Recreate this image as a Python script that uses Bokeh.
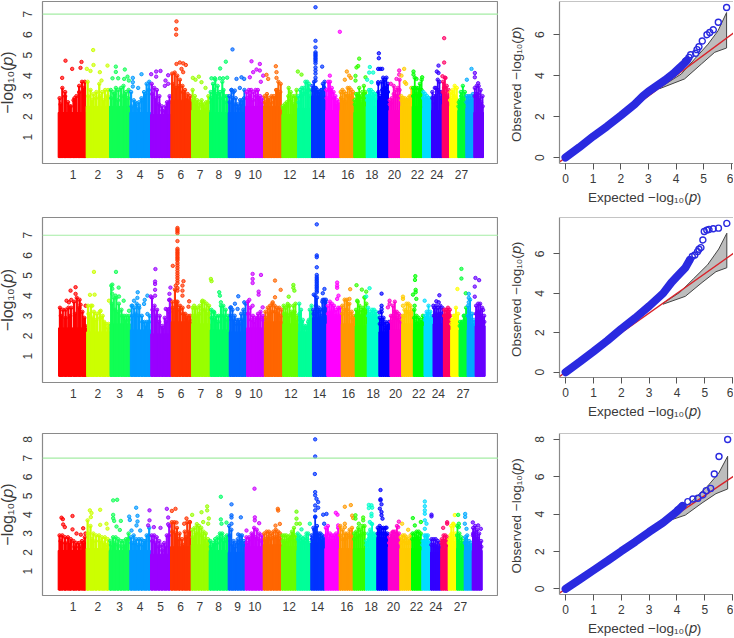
from bokeh.plotting import figure
from bokeh.layouts import row, column
from bokeh.models import Range1d, FixedTicker, Span
from bokeh.embed import file_html
from bokeh.resources import INLINE

COLORS = ["#FF0000","#CCFF00","#11FF55","#0099FF","#9900FF","#FF3300","#99FF00","#00FF66","#0066FF","#CC00FF",
          "#FF6600","#66FF00","#00FF99","#0033FF","#FF00FF","#FF9900","#33FF00","#00FFCC","#0000FF","#FF00CC",
          "#FFCC00","#00FF00","#00DDFF","#3300FF","#FF0066","#FFFF00","#00FF33","#00AAFF","#6600FF"]
TICK_LABELS = ["1","2","3","4","5","6","7","8","9","10","12","14","16","18","20","22","24","27"]

P1_EDGES = [170,254,324,385,447,508,570,624,680,732,786,841,888,930,972,1015,1057,1094,1128,1162,1197,1232,1263,1290,1322,1344,1369,1393,1417,1446]
P2_EDGES = [174,258,328,389,450,511,572,628,685,737,790,845,892,934,977,1020,1062,1098,1133,1166,1201,1236,1268,1295,1326,1348,1373,1397,1421,1451]
P3_EDGES = [170,254,323,385,447,507,569,623,680,731,785,840,886,928,970,1013,1055,1092,1126,1160,1195,1230,1261,1287,1318,1340,1365,1388,1412,1442]
P1_TICKS = [215,289,354,416,477,538,596,652,709,761,865,951,1039,1111,1179,1248,1306,1380]
P2_TICKS = [218,292,357,418,480,541,600,655,712,765,870,955,1042,1116,1183,1252,1311,1385]
P3_TICKS = [215,289,354,416,477,537,595,651,708,760,863,948,1036,1109,1176,1245,1303,1377]

P1_SOLID = [2.2,2.5,2.5,2.2,2.1,2.8,2.3,2.2,2.2,2.5,2.5,2.1,2.4,3.0,2.3,2.3,2.2,2.5,2.8,2.3,2.5,2.5,2.4,2.3,2.6,2.5,2.3,2.4,2.2]
P2_SOLID = [2.4,2.2,2.6,2.3,2.1,2.7,2.6,2.3,2.2,2.4,2.7,2.6,2.2,2.9,2.6,2.6,2.5,2.6,2.2,2.3,2.6,2.3,2.5,2.6,2.8,2.3,2.3,2.3,2.5]
P3_SOLID = [2.1,2.2,2.1,2.1,1.9,2.3,2.4,2.1,2.0,2.3,2.4,2.3,2.1,2.5,2.2,2.2,2.2,2.2,2.8,2.3,2.2,2.2,2.1,2.0,2.2,2.3,2.2,2.1,2.1]

P1_TOPS = [[2.9,3.4,3.2,2.7,2.5,2.8,3.0,3.5,3.7,3.7],[3.7,3.3,3.1,3.2,3.6,3.2,3.3,3.3],[3.3,3.2,3.4,3.3,3.4,3.5,3.2,3.3],
 [3.2,2.8,2.6,2.7,2.9,3.2,3.6,3.7],[3.6,3.4,3.3,3.0,2.5,2.3,2.7,3.0],[4.1,4.15,4.0,3.8,3.5,3.3,3.1,3.0],[3.3,3.0,2.8,2.7,2.8,2.6,2.7,3.0],
 [3.2,3.6,3.8,3.5,3.2,3.7,3.0,3.0],[3.0,3.3,3.2,2.9,2.6,2.8,2.8,3.3],[3.2,3.3,3.3,3.2,3.3,3.3,3.0,2.9],[3.0,3.1,2.9,3.0,3.0,3.3,3.7,3.6],
 [2.5,2.6,2.7,3.4,3.2,3.0,3.0,3.3],[3.0,3.3,3.4,3.4,3.7,3.7,3.6,3.3],[3.5,3.7,3.4,3.2,3.1,3.3,3.6,3.7],[3.3,3.7,3.7,3.4,3.2,3.0,2.8,2.7],
 [3.2,3.3,3.2,3.1,3.4,3.4,3.3,3.2],[2.8,3.1,3.1,3.4,3.0,3.2,3.5,3.2],[3.0,3.3,3.3,3.2,3.1,3.1],[3.6,3.0,3.7,3.9,3.8,3.9,3.6],
 [2.8,2.9,3.5,3.3,3.4,3.8],[3.0,2.9,2.9,2.8,2.9,3.0,3.4],[3.4,3.9,3.4,3.4,3.6,3.8],[3.2,3.1,3.0,2.9,2.9],[3.2,3.0,3.4,3.8,3.7,3.2],
 [3.7,3.9,3.5,3.3],[3.2,3.3,3.5,3.4],[2.7,3.2,3.5,3.2],[3.0,3.0,3.0,3.1],[3.4,3.5,3.5,3.3,3.0]]
P2_TOPS = [[3.4,3.3,3.3,3.4,3.4,3.7,3.9,3.8,3.2,2.5],[3.5,3.5,3.2,3.1,3.2,3.0,2.6,2.6],[4.5,3.9,3.9,3.6,3.3,3.0,3.0,3.0],
 [3.5,3.4,3.6,3.4,3.0,2.7,2.7,3.0],[3.9,3.5,3.3,3.0,2.5,2.9,3.3,3.8],[3.7,4.3,3.7,3.5,3.4,3.1,3.0,3.0],[3.4,3.4,3.4,3.5,3.7,3.7,3.6,3.5],
 [3.3,3.2,3.0,3.0,3.5,3.5,3.3,3.0],[3.4,3.3,3.0,2.8,2.8,3.1,3.3,3.6],[3.7,3.4,3.0,2.9,3.1,3.2,3.0],[3.2,3.4,3.5,3.6,3.5,3.4,3.4,3.3],
 [3.5,3.4,3.5,3.5,3.2,3.5,3.6,3.0],[3.6,3.3,2.8,2.5,2.5,2.7,3.3,3.5],[3.3,4.0,3.9,3.4,3.3,3.7,3.8,3.8],[3.5,3.7,3.6,3.5,3.3,3.4,3.4],
 [3.5,3.8,3.8,3.6,3.2,3.0],[3.3,3.7,3.5,3.3,3.4,3.9,3.6],[3.4,3.2,3.3,3.3,3.2,3.0],[2.9,3.2,2.9,2.7,2.6,2.7],[3.0,3.5,3.7,3.2,3.1,3.0],
 [3.0,3.3,3.6,3.6,3.5,3.3],[3.3,3.0,2.9,2.8,3.0],[3.0,3.2,3.5,3.2,3.0],[3.4,3.5,3.4,3.5,3.4],[3.3,3.3,3.4,3.3],[2.8,3.0,3.4,3.1],
 [2.7,2.7,3.0,3.4],[3.5,3.8,3.1,2.8],[3.5,3.6,3.6,3.4,3.0]]
P3_TOPS = [[2.9,2.9,2.8,2.8,2.7,2.6,2.5,2.5,2.6,2.8],[3.7,3.4,3.0,2.9,2.9,2.8,2.8,2.7],[2.6,2.8,2.8,2.7,2.6,2.6,2.7,3.0],
 [2.8,2.9,2.7,2.7,2.7,2.6,2.9,3.3],[2.9,2.9,2.8,2.6,2.4,2.5,2.9,3.4],[3.6,3.6,3.3,3.0,2.7,3.1,3.6,3.6],[3.2,3.3,3.5,3.4,3.3,3.1,3.0,2.7],
 [2.6,2.5,2.7,2.8,3.0,3.0,2.8,2.9],[3.4,3.2,2.6,2.5,2.7,2.9,2.9,2.6],[2.8,2.8,3.0,3.3,3.2,3.0,2.9],[3.0,3.1,3.1,3.0,3.1,3.2,3.1,2.9],
 [2.9,2.9,2.9,2.8,2.9,3.1,3.3,2.9],[3.0,2.9,2.8,2.7,2.8,3.0,3.0,2.5],[2.9,3.3,3.9,3.4,3.0,3.0,2.9,2.8],[3.3,3.4,3.0,2.9,2.9,3.0,3.3],
 [3.4,3.2,3.0,3.0,3.2,3.3],[3.0,3.1,3.3,3.2,3.4,3.4],[2.6,3.0,3.2,3.5,3.0,2.9],[3.3,3.4,3.3,3.3,3.3,3.0],[2.8,3.0,3.1,3.1,3.4,3.0],
 [2.8,2.9,2.9,2.8,2.7,2.9],[3.0,3.0,3.1,3.1,3.0],[2.6,2.9,2.9,2.9,2.6],[2.7,2.7,2.7,2.6,2.5],[2.7,2.9,2.9,2.8],[2.7,3.4,3.5,3.0],
 [3.4,3.0,2.8,2.6],[2.8,2.9,2.6,2.5],[3.3,3.4,3.2,3.0,2.6]]

P1_MID = [[2.6,3.0,2.5,2.9,3.2,3.4],[3.0,2.8,2.9,3.0,2.8,3.0],[2.9,3.1,2.8,3.0,3.1,2.9],[2.5,2.7,2.4,2.8,3.1,3.3],[3.1,2.9,2.6,2.3,2.5,2.7],[3.6,3.4,3.5,3.2,2.9,2.8],
 [2.8,2.6,2.5,2.6,2.4,2.7],[2.9,3.3,3.1,2.9,3.3,2.7],[2.7,2.9,2.6,2.4,2.6,2.9],[2.9,3.0,2.8,3.0,2.9,2.7],[2.7,2.8,2.7,2.9,3.3,3.2],[2.4,2.5,3.0,2.8,2.6,2.9],
 [2.7,3.0,3.1,3.2,3.3,3.0],[3.3,3.4,3.3,3.2,3.3,3.4],[2.9,3.3,3.2,2.9,2.6,2.5],[2.9,2.8,2.7,3.0,3.0,2.9],[2.6,2.8,3.0,2.7,2.9,3.1],[2.8,3.0,2.9,3.0,2.9,2.8],
 [3.2,2.9,3.3,3.4,3.4,3.2],[2.6,2.7,3.1,3.0,3.0,3.3],[2.8,2.7,2.7,2.8,2.7,3.0],[3.0,3.4,3.1,3.0,3.2,3.3],[2.9,2.8,2.8,2.7,2.7,2.7],[2.9,2.7,3.0,3.3,3.2,2.9],
 [3.2,3.4,3.1,3.0,2.9,2.8],[2.8,2.9,3.1,3.0,2.9,2.8],[2.5,2.8,3.0,2.9,2.7,2.6],[2.7,2.8,2.7,2.8,2.7,2.8],[3.0,3.1,3.1,2.9,2.7,2.5]]
P2_MID = [[3.0,2.9,3.0,3.1,3.4,2.9],[3.1,2.9,2.8,2.9,2.7,2.4],[3.6,3.3,3.2,3.0,2.8,2.8],[3.0,3.1,3.0,2.7,2.5,2.7],[3.3,3.0,2.7,2.4,2.7,3.2],[3.4,3.7,3.3,3.1,2.9,2.8],
 [3.0,3.0,3.1,3.3,3.3,3.1],[2.9,2.8,2.7,3.0,3.0,2.8],[3.0,2.8,2.6,2.6,2.8,3.1],[3.1,2.8,2.7,2.9,2.9,2.8],[2.9,3.1,3.2,3.2,3.1,3.0],[3.1,3.1,3.0,3.1,3.2,2.8],
 [3.1,2.7,2.4,2.4,2.8,3.1],[3.1,3.5,3.2,3.0,3.3,3.4],[3.1,3.2,3.2,3.0,3.0,3.0],[3.1,3.3,3.3,3.1,2.9,2.8],[3.0,3.2,3.0,3.0,3.3,3.2],[3.0,2.9,3.0,3.0,2.9,2.8],
 [2.6,2.8,2.6,2.4,2.4,2.5],[2.7,3.0,3.2,2.9,2.8,2.7],[2.8,3.0,3.2,3.2,3.1,2.9],[2.9,2.7,2.6,2.6,2.7,2.7],[2.8,2.9,3.1,2.9,2.8,2.7],[3.0,3.1,3.0,3.1,3.1,3.0],
 [3.0,3.0,3.0,3.1,3.0,3.0],[2.6,2.8,3.0,2.9,2.7,2.6],[2.5,2.5,2.7,3.0,2.8,2.6],[3.0,3.2,2.8,2.6,2.5,2.5],[3.1,3.2,3.2,3.0,2.8,2.7]]
P3_MID = [[2.6,2.5,2.5,2.3,2.3,2.5],[3.0,2.7,2.6,2.6,2.5,2.4],[2.4,2.5,2.4,2.3,2.4,2.7],[2.5,2.5,2.4,2.4,2.6,2.9],[2.6,2.5,2.3,2.1,2.3,2.9],[3.1,3.0,2.7,2.4,2.8,3.1],
 [2.8,3.0,3.0,2.9,2.7,2.5],[2.3,2.4,2.5,2.7,2.6,2.6],[2.9,2.4,2.3,2.5,2.6,2.4],[2.5,2.7,2.9,2.8,2.7,2.6],[2.7,2.8,2.7,2.8,2.8,2.7],[2.6,2.6,2.6,2.7,2.9,2.6],
 [2.7,2.6,2.5,2.6,2.7,2.4],[2.7,3.2,3.0,2.8,2.7,2.6],[2.9,2.7,2.6,2.6,2.7,2.9],[2.9,2.7,2.7,2.8,2.9,2.8],[2.7,2.8,2.9,2.9,3.0,3.0],[2.4,2.7,2.9,3.0,2.7,2.6],
 [3.0,3.1,3.0,3.0,3.0,2.9],[2.5,2.7,2.8,2.8,3.0,2.7],[2.5,2.6,2.6,2.5,2.5,2.6],[2.7,2.7,2.8,2.8,2.7,2.6],[2.4,2.6,2.6,2.6,2.4,2.3],[2.4,2.4,2.4,2.3,2.3,2.2],
 [2.5,2.6,2.6,2.6,2.5,2.4],[2.5,2.9,3.0,2.8,2.6,2.5],[2.9,2.7,2.5,2.4,2.4,2.3],[2.5,2.6,2.4,2.3,2.3,2.2],[2.9,3.0,2.8,2.7,2.4,2.3]]

P1_PTS = [
 [(192,4.73),(182,3.89),(212,4.33),(240,4.67),(237,4.38)],
 [(275,5.25),(276,4.52),(256,4.33),(267,4.23),(295,4.17),(318,4.49),(300,3.76)],
 [(343,4.44),(343,4.18),(370,4.3),(333,3.87),(350,3.87),(368,3.84),(378,3.95),(382,3.76)],
 [(394,3.89),(394,3.68),(394,3.47),(410,3.4),(420,4.07)],
 [(449,4.07),(464,4.2),(477,4.23),(464,3.95),(500,4.02),(492,3.76),(500,3.6),(490,3.5)],
 [(525,6.65),(524,6.27),(524,6.0),(525,4.57),(535,4.64),(545,4.6),(553,4.52),(540,4.33),(545,4.17)],
 [(574,3.89),(582,3.8),(592,3.95),(600,3.68),(612,3.4)],
 [(656,4.35),(673,4.68),(677,3.9),(630,3.87),(640,3.87),(655,3.87),(665,3.87)],
 [(693,5.28),(720,3.92),(705,3.84),(728,3.84),(690,3.3),(700,3.27),(715,3.4)],
 [(750,4.7),(775,4.57),(755,4.17),(765,4.3),(775,4.25),(745,3.92),(785,4.0),(778,3.7)],
 [(795,4.04),(800,3.84),(823,4.46),(825,4.17),(825,3.89)],
 [(889,4.2),(900,4.05)],
 [],
 [(942,7.34),(942,5.7),(942,5.38),(942,5.14),(942,5.07),(942,5.0),(942,4.93),(942,4.85),(942,4.78),(942,4.7),(942,4.6),(942,4.4),(942,4.25),(942,4.1),(942,3.9),(942,3.75),(962,4.44)],
 [(985,4.0),(1015,6.14)],
 [(1036,4.2),(1030,3.8),(1043,4.0),(1048,3.89)],
 [(1073,4.83),(1065,4.4),(1070,4.47),(1062,3.99),(1062,3.76),(1092,3.92)],
 [(1105,4.42),(1103,4.15),(1115,4.15),(1097,3.8),(1110,3.68)],
 [(1132,5.09),(1132,4.85),(1130,4.33),(1136,4.33),(1142,4.33),(1130,3.68)],
 [(1193,4.25),(1193,4.05),(1185,3.84),(1168,3.6)],
 [(1208,4.33),(1200,4.0),(1210,3.68),(1214,3.6)],
 [(1236,4.2),(1236,4.05),(1245,3.84),(1262,3.92)],
 [],
 [(1311,4.49),(1306,4.2),(1311,4.13),(1300,3.4)],
 [(1328,5.83),(1328,4.64),(1323,3.97),(1332,3.89)],
 [],
 [],
 [(1410,4.33),(1396,3.8)],
 [(1420,4.13),(1420,3.92),(1430,3.63)]]
P2_PTS = [
 [(225,4.42),(210,4.25),(198,3.75),(205,3.67),(212,3.79),(225,4.09),(255,3.5),(240,3.55)],
 [(280,5.18),(268,4.04),(282,4.05),(325,3.75),(275,3.5),(300,3.25)],
 [(346,5.18),(335,4.55),(335,4.34),(354,4.4),(369,3.75),(335,4.09),(345,4.0),(355,3.96),(385,3.25)],
 [(411,4.17),(410,3.89),(440,4.0),(432,3.79),(400,3.75),(415,3.5),(395,3.5),(430,3.59),(440,3.09)],
 [(464,5.32),(463,4.7),(463,4.58),(463,4.29),(450,3.96),(463,4.0),(509,4.4),(506,4.09),(505,3.79),(495,3.34),(505,3.34)],
 [(530,7.36),(530,7.28),(530,7.2),(530,7.1),(530,6.71),(530,6.33),(530,6.25),(530,6.16),(530,6.08),(530,6.0),(530,5.91),(530,5.83),(530,5.75),(530,5.62),(530,5.5),(530,5.38),(516,5.48),(530,5.25),(530,5.12),(530,5.0),(530,4.88),(530,4.75),(530,4.62),(525,4.5),(530,4.38),(530,4.25),(548,4.72),(545,4.5),(545,4.25),(545,4.0),(565,3.72),(563,3.45)],
 [(630,4.83),(632,4.72),(605,3.75),(580,3.5)],
 [(655,4.17),(657,4.0),(660,3.67),(640,3.17)],
 [(712,3.97),(702,3.6),(690,3.42),(730,3.67),(710,3.34)],
 [(755,5.08),(755,4.83),(755,4.63),(780,5.03),(773,4.2),(773,4.05),(745,3.79),(755,3.5),(785,3.42)],
 [(822,4.75),(822,3.92),(839,4.29),(815,3.67)],
 [(877,4.53),(877,4.39),(880,4.25),(863,3.95),(860,3.59)],
 [],
 [(947,7.54),(947,6.0),(947,5.91),(947,5.41),(947,5.03),(947,4.92),(947,4.83),(947,4.75),(947,4.67),(947,4.58),(947,4.5),(947,4.42),(947,4.34),(947,4.25),(947,4.17),(938,4.05),(970,4.33),(965,4.12),(965,3.79),(973,3.67)],
 [(1008,4.65),(1008,4.5),(1008,4.39),(1012,4.0),(1008,3.84)],
 [(1047,4.32),(1045,3.84),(1040,3.59)],
 [(1066,4.52),(1082,4.3),(1095,4.2),(1090,3.92),(1068,3.75)],
 [(1105,4.37),(1095,3.96)],
 [(1141,4.1),(1141,3.5),(1141,3.34),(1135,3.17)],
 [(1165,3.75),(1165,3.59),(1160,3.42)],
 [(1205,3.95),(1205,3.84),(1205,3.5)],
 [(1242,4.97),(1241,4.78),(1243,4.29),(1243,4.17),(1235,4.05),(1245,3.84),(1240,3.5)],
 [(1270,3.75)],
 [(1314,4.02),(1305,3.72),(1296,3.5),(1312,3.67)],
 [],
 [(1368,4.33)],
 [(1380,5.33),(1380,4.85),(1393,4.12)],
 [(1402,4.09),(1402,3.89),(1402,3.67)],
 [(1422,4.88),(1433,4.77),(1420,4.45),(1420,3.95),(1445,3.29)]]
P3_PTS = [
 [(180,3.84),(184,3.76),(213,3.93),(185,3.48),(190,3.34),(213,3.22),(225,3.0),(245,3.28),(238,2.94),(252,3.0)],
 [(265,4.23),(270,4.09),(296,4.26),(268,3.87),(296,3.46),(315,3.52),(318,3.26)],
 [(335,4.76),(347,4.79),(358,3.67),(335,3.99),(335,3.81),(338,3.67),(345,3.37),(355,3.19)],
 [(404,4.37),(408,3.94),(408,3.64),(383,3.9),(385,3.72),(405,3.43),(390,3.16),(416,3.16)],
 [(444,4.23),(444,3.7),(440,3.43),(496,4.31),(457,3.34),(477,3.3),(500,3.85),(500,3.49)],
 [(511,4.2),(522,4.31),(525,3.58),(555,3.8),(548,3.52),(565,3.61)],
 [(572,3.99),(600,4.13),(617,4.44),(617,4.23),(622,3.8),(620,3.52),(605,3.61)],
 [(658,4.95),(658,3.75),(660,3.52),(675,3.58)],
 [(690,4.55),(690,3.97),(690,3.85),(718,3.86),(690,3.52),(710,2.95)],
 [(759,5.38),(760,3.86),(760,3.7),(773,3.55),(735,3.16)],
 [(829,4.31),(830,4.22),(822,3.42),(835,3.51),(835,3.01)],
 [(885,4.16),(885,3.79),(885,3.52),(895,3.52)],
 [(925,3.52),(900,3.22)],
 [(941,8.0),(941,7.09),(940,6.16),(941,5.2),(941,5.03),(945,4.84),(950,4.67),(941,4.49),(950,4.37),(941,4.23),(941,3.87),(965,4.0),(975,4.04),(968,3.52)],
 [(1003,4.1),(1008,4.0),(1010,3.43)],
 [(1030,4.42),(1048,4.51),(1052,3.95),(1055,3.82),(1030,3.52),(1030,3.34)],
 [(1062,3.97),(1062,3.79),(1085,3.85),(1085,3.7),(1072,3.52)],
 [(1102,4.52),(1110,4.5),(1102,4.35),(1112,4.37),(1110,4.05),(1110,3.92),(1105,3.61),(1110,3.52)],
 [(1137,5.31),(1137,4.82),(1137,4.76),(1140,4.55),(1135,4.32),(1140,4.14),(1140,3.97),(1143,3.79),(1155,3.31)],
 [(1192,3.63),(1175,3.07),(1190,3.34)],
 [(1202,3.52),(1220,3.2)],
 [(1234,3.82),(1240,3.43),(1258,3.61)],
 [(1270,4.7),(1270,4.45),(1270,4.23),(1270,4.05),(1270,3.7),(1275,3.52),(1270,3.25)],
 [(1290,4.0),(1290,3.91)],
 [(1325,3.3),(1337,3.6),(1337,3.52)],
 [(1360,3.98),(1355,3.52),(1358,3.43)],
 [(1370,3.99),(1372,3.52),(1372,3.34)],
 [(1391,4.04),(1391,3.88),(1390,3.52),(1395,3.25)],
 [(1414,3.59),(1430,3.43),(1438,3.25),(1415,3.0)]]

Q1_LINE_X = [0,0.5,1,1.5,2,2.5,2.8,3,3.3,3.6,3.9,4.1,4.3,4.4]
Q1_LINE_Y = [0,0.5,1.03,1.52,2.05,2.6,3.0,3.22,3.5,3.78,4.1,4.35,4.6,4.75]
Q1_PTS_X = [5.83,5.53,5.35,5.22,5.12,4.95,4.83,4.76,4.71,4.53,4.47,4.35]
Q1_PTS_Y = [7.33,6.61,6.24,6.11,6.0,5.69,5.41,5.27,5.09,5.02,4.89,4.7]
Q1_BAND_X = [3.4,4.19,4.67,5.16,5.52,5.83,5.83,5.4,4.92,4.31,3.4]
Q1_BAND_Y = [3.4,4.08,4.81,5.54,6.19,7.08,5.35,5.14,4.57,3.84,3.36]
Q2_LINE_X = [0,0.5,1,1.5,2,2.5,3,3.5,3.8,4,4.3,4.46]
Q2_LINE_Y = [0,0.52,1.05,1.6,2.2,2.75,3.35,4.0,4.55,4.85,5.3,5.7]
Q2_PTS_X = [5.79,5.49,5.3,5.15,5.07,4.98,4.93,4.86,4.79,4.74,4.64,4.55,4.46]
Q2_PTS_Y = [7.55,7.31,7.28,7.24,7.21,7.14,6.71,6.32,6.24,6.12,5.95,5.87,5.7]
Q2_BAND_X = [3.5,4.1,4.6,5.1,5.5,5.79,5.79,5.4,4.9,4.3,3.5]
Q2_BAND_Y = [3.5,4.05,4.75,5.45,6.25,7.05,5.3,5.1,4.55,3.85,3.45]
Q3_LINE_X = [0,0.5,1,1.5,2,2.5,3,3.5,4,4.2]
Q3_LINE_Y = [0,0.5,1,1.5,2.02,2.52,3.05,3.55,4.15,4.44]
Q3_PTS_X = [5.82,5.51,5.34,5.21,5.05,4.93,4.75,4.57,4.39,4.2,4.03]
Q3_PTS_Y = [8.0,7.09,6.15,5.38,5.26,5.03,4.85,4.81,4.67,4.44,4.23]
Q3_BAND_X = [3.7,4.1,4.6,5.1,5.5,5.82,5.82,5.4,4.9,4.3,3.7]
Q3_BAND_Y = [3.72,4.1,4.8,5.5,6.2,7.1,5.35,5.1,4.6,3.95,3.65]

FONT = "Liberation Sans"
GRAY = "#8a8a8a"
TXT = "#3a3a3a"
Y_LABEL = "\u2212log\u2081\u2080(\U0001D45D)"

def manhattan(edges, solid, tops, mid, pts, ticks, ymin, ymax, ytop, xleft, w, h, bt, bb, bl):
    p = figure(width=w, height=h, output_backend="svg", toolbar_location=None,
               x_range=Range1d(xleft, 1491), y_range=Range1d(ymin, ymax),
               min_border_left=bl, min_border_right=0, min_border_top=bt, min_border_bottom=bb, margin=0)
    for i, c in enumerate(COLORS):
        L, R = edges[i], edges[i + 1]
        t = tops[i]
        step = (R - L) / len(t)
        xs = [L + (j + 0.5) * step for j in range(len(t))]
        m = mid[i]
        mstep = (R - L) / len(m)
        mx = [L + (j + 0.5) * mstep for j in range(len(m))]
        p.quad(left=L, right=R, bottom=0, top=solid[i], color=c)
        p.vbar(x=xs, width=step * 0.42, bottom=0, top=t, color=c)
        p.vbar(x=mx, width=mstep * 0.5, bottom=0, top=m, color=c)
        p.scatter(xs + mx, t + m, size=3.4, marker="circle", fill_color=c, fill_alpha=0.5, line_color=c, line_width=0.9)
        if pts[i]:
            p.scatter([q[0] for q in pts[i]], [q[1] for q in pts[i]], size=3.4, marker="circle",
                      fill_color=c, fill_alpha=0.65, line_color=c, line_width=0.9)
    p.add_layout(Span(location=7, dimension="width", line_color="#a4eca4", line_width=1.2))
    p.grid.visible = False
    p.outline_line_color = GRAY
    p.outline_line_width = 1.2
    p.xaxis.ticker = FixedTicker(ticks=ticks)
    p.xaxis.major_label_overrides = {t: l for t, l in zip(ticks, TICK_LABELS)}
    p.xaxis.axis_line_color = None
    p.xaxis.major_tick_line_color = None
    p.xaxis.major_tick_out = 0
    p.xaxis.major_label_standoff = 6
    p.yaxis.ticker = FixedTicker(ticks=list(range(1, ytop + 1)))
    p.yaxis.axis_line_color = None
    p.yaxis.major_tick_line_color = None
    p.yaxis.major_tick_out = 0
    p.yaxis.major_label_orientation = "vertical"
    p.yaxis.major_label_standoff = 10
    p.yaxis.axis_label = Y_LABEL
    p.yaxis.axis_label_text_font_style = "normal"
    p.yaxis.axis_label_text_font = FONT
    p.yaxis.axis_label_text_font_size = "16px"
    p.yaxis.axis_label_text_color = TXT
    p.yaxis.axis_label_standoff = 5
    for ax in (p.xaxis, p.yaxis):
        ax.major_label_text_font = FONT
        ax.major_label_text_font_size = "12px"
        ax.major_label_text_color = TXT
    p.axis.minor_tick_line_color = None
    return p

def qq(line_x, line_y, pts_x, pts_y, band_x, band_y, yticks, xr, yr, w, h, bt, bb, bl):
    p = figure(width=w, height=h, output_backend="svg", toolbar_location=None,
               x_range=Range1d(*xr), y_range=Range1d(*yr),
               min_border_left=bl, min_border_right=0, min_border_top=bt, min_border_bottom=bb, margin=0)
    p.patch(band_x, band_y, fill_color="#bdbdbd", line_color="#444444", line_width=1)
    p.line([-1, 7], [-1, 7], line_color="#d9232a", line_width=1.4)
    p.line(line_x, line_y, line_color="#2a2ae0", line_width=8, line_cap="round")
    p.scatter(pts_x, pts_y, size=6, marker="circle", fill_color=None, line_color="#2a2ae0", line_width=1.4)
    p.add_layout(Span(location=yr[1], dimension="width", line_color=GRAY, line_width=1.2))
    p.grid.visible = False
    p.outline_line_color = None
    p.xaxis.ticker = FixedTicker(ticks=[0, 1, 2, 3, 4, 5, 6])
    p.yaxis.ticker = FixedTicker(ticks=yticks)
    p.yaxis.major_label_orientation = "vertical"
    p.xaxis.axis_label = "Expected  \u2212log\u2081\u2080(\U0001D45D)"
    p.yaxis.axis_label = "Observed  \u2212log\u2081\u2080(\U0001D45D)"
    for ax in (p.xaxis, p.yaxis):
        ax.axis_line_color = GRAY
        ax.axis_line_width = 1.2
        ax.major_tick_line_color = "#555555"
        ax.major_tick_out = 6
        ax.major_tick_in = 0
        ax.minor_tick_line_color = None
        ax.major_label_text_font = FONT
        ax.major_label_text_font_size = "12px"
        ax.major_label_text_color = TXT
        ax.axis_label_text_font = FONT
        ax.axis_label_text_font_size = "13.5px"
        ax.axis_label_text_font_style = "normal"
        ax.axis_label_text_color = TXT
    p.xaxis.major_label_standoff = 4
    p.xaxis.axis_label_standoff = 4
    p.yaxis.major_label_standoff = 9
    p.yaxis.axis_label_standoff = 9
    return p

m1 = manhattan(P1_EDGES, P1_SOLID, P1_TOPS, P1_MID, P1_PTS, P1_TICKS, -0.29, 7.62, 7, 123, 503, 210, 1, 47, 46)
m2 = manhattan(P2_EDGES, P2_SOLID, P2_TOPS, P2_MID, P2_PTS, P2_TICKS, -0.31, 7.88, 7, 126, 503, 211, 7, 39, 47)
m3 = manhattan(P3_EDGES, P3_SOLID, P3_TOPS, P3_MID, P3_PTS, P3_TICKS, -0.29, 8.31, 8, 123, 503, 217, 12, 43, 46)
q1 = qq(Q1_LINE_X, Q1_LINE_Y, Q1_PTS_X, Q1_PTS_Y, Q1_BAND_X, Q1_BAND_Y, [0, 2, 4, 6], (-0.217, 6.08), (-0.29, 7.62), 235, 210, 1, 47, 60)
q2 = qq(Q2_LINE_X, Q2_LINE_Y, Q2_PTS_X, Q2_PTS_Y, Q2_BAND_X, Q2_BAND_Y, [0, 2, 4, 6], (-0.22, 6.03), (-0.27, 7.85), 235, 211, 7, 43, 61)
q3 = qq(Q3_LINE_X, Q3_LINE_Y, Q3_PTS_X, Q3_PTS_Y, Q3_BAND_X, Q3_BAND_Y, [0, 2, 4, 6, 8], (-0.22, 6.03), (-0.30, 8.32), 235, 217, 12, 43, 61)

root = row(column(m1, m2, m3, spacing=0), column(q1, q2, q3, spacing=0), spacing=0, margin=(0, 0, 0, -5))
open("out.html", "w").write(file_html(root, INLINE))
